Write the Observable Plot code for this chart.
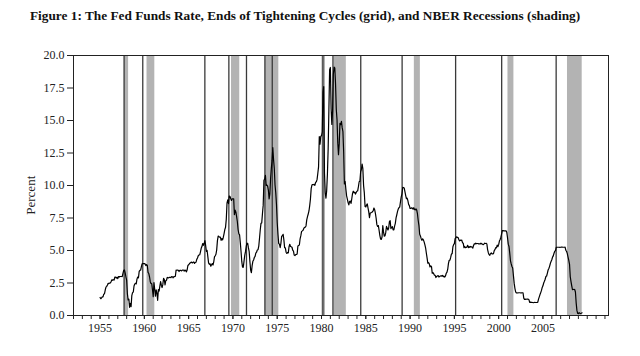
<!DOCTYPE html>
<html>
<head>
<meta charset="utf-8">
<script src="https://cdn.jsdelivr.net/npm/d3@7"></script>
<script src="https://cdn.jsdelivr.net/npm/@observablehq/plot@0.6"></script>
<style>
  body { margin: 0; background: #fff; }
  #wrap { position: relative; width: 640px; height: 356px; overflow: hidden; }
  #title { position: absolute; left: 30px; top: 8px; width: 460px; text-align: center;
           font: bold 13.3px "Liberation Serif", serif; color: #111; white-space: nowrap; }
  #chart { position: absolute; left: 0; top: 40px; }
</style>
</head>
<body>
<div id="wrap">
  <div id="title">Figure 1: The Fed Funds Rate, Ends of Tightening Cycles (grid), and NBER Recessions (shading)</div>
  <div id="chart"></div>
</div>
<script>
const startYear = 1955;
const rates1950s = [
 1.39,1.29,1.35,1.43,1.43,1.64,1.68,1.96,2.18,2.24,2.35,2.48,
 2.45,2.50,2.50,2.62,2.75,2.71,2.75,2.73,2.95,2.96,2.88,2.94,
 2.84,3.00,2.96,3.00,3.00,3.00,2.99,3.24,3.47,3.50,3.28,2.98,
 2.72,1.67,1.20,1.26,0.63,0.93,0.68,1.53,1.76,1.80,2.27,2.42,
 2.48,2.43,2.80,2.96,2.90,3.39,3.47,3.50,3.76,3.98,4.00,3.99];
const rates1960s = [
 3.99,3.97,3.84,3.92,3.85,3.32,3.23,2.98,2.60,2.47,2.44,1.98,
 1.45,2.54,2.02,1.49,1.98,1.73,1.17,2.00,1.88,2.26,2.61,2.33,
 2.15,2.37,2.85,2.78,2.36,2.68,2.71,2.93,2.90,2.90,2.94,2.93,
 2.92,3.00,2.98,2.90,3.00,2.99,3.02,3.49,3.48,3.50,3.48,3.38,
 3.48,3.48,3.43,3.47,3.50,3.50,3.42,3.50,3.45,3.36,3.52,3.85,
 3.90,3.98,4.04,4.09,4.10,4.04,4.09,4.12,4.01,4.08,4.10,4.32,
 4.42,4.60,4.65,4.67,4.90,5.17,5.30,5.53,5.40,5.53,5.76,5.40,
 4.94,5.00,4.53,4.05,3.94,3.98,3.79,3.90,3.99,3.88,4.13,4.51,
 4.60,4.71,5.05,5.76,6.11,6.07,6.02,6.03,5.78,5.91,5.82,6.02,
 6.30,6.61,6.79,7.41,8.67,8.90,8.61,9.19,9.15,9.00,8.85,8.97];
const rates1970s = [
 8.98,8.98,7.76,8.10,7.95,7.61,7.21,6.61,6.29,6.20,5.60,4.90,
 4.14,3.72,3.71,4.16,4.63,4.91,5.31,5.56,5.55,5.20,4.91,4.14,
 3.50,3.29,3.83,4.17,4.27,4.46,4.55,4.80,4.87,5.04,5.06,5.33,
 5.94,6.58,7.09,7.12,7.84,8.49,10.40,10.50,10.78,10.01,10.03,9.95,
 9.65,8.97,9.35,10.51,11.31,11.93,12.92,12.01,11.34,10.06,9.45,8.53,
 7.13,6.24,5.54,5.49,5.22,5.55,6.10,6.14,6.24,5.82,5.22,5.20,
 4.87,4.77,4.84,4.82,5.29,5.48,5.31,5.29,5.25,5.02,4.95,4.65,
 4.61,4.68,4.69,4.73,5.35,5.39,5.42,5.90,6.14,6.47,6.51,6.56,
 6.70,6.78,6.79,6.89,7.36,7.60,7.81,8.04,8.45,8.96,9.76,10.03,
 10.07,10.06,10.09,10.01,10.24,10.29,10.47,10.94,11.43,13.77,13.18,13.78];
const rates1980s = [
 13.82,14.13,17.19,17.61,10.98,9.47,9.03,9.61,10.87,12.81,15.85,18.90,
 19.08,15.93,14.70,15.72,18.52,19.10,19.04,17.82,15.87,15.08,13.31,12.37,
 13.22,14.78,14.68,14.94,14.45,14.15,12.59,10.12,10.31,9.71,9.20,8.95,
 8.68,8.51,8.77,8.80,8.63,8.98,9.37,9.56,9.45,9.48,9.34,9.47,
 9.56,9.59,9.91,10.29,10.32,11.06,11.23,11.64,11.30,9.99,9.43,8.38,
 8.35,8.50,8.58,8.27,7.97,7.53,7.88,7.90,7.92,7.99,8.05,8.27,
 8.14,7.86,7.48,6.99,6.85,6.92,6.56,6.17,5.89,5.85,6.04,6.91,
 6.43,6.10,6.13,6.37,6.85,6.73,6.58,6.73,7.22,7.29,6.69,6.77,
 6.83,6.58,6.58,6.87,7.09,7.51,7.75,8.01,8.19,8.30,8.35,8.76,
 9.12,9.36,9.85,9.84,9.81,9.53,9.24,8.99,9.02,8.84,8.55,8.45];
const rates1990s = [
 8.23,8.24,8.28,8.26,8.18,8.29,8.15,8.13,8.20,8.11,7.81,7.31,
 6.91,6.25,6.12,5.91,5.78,5.90,5.82,5.66,5.45,5.21,4.81,4.43,
 4.03,4.06,3.98,3.73,3.82,3.76,3.25,3.30,3.22,3.10,3.09,2.92,
 3.02,3.03,3.07,2.96,3.00,3.04,3.06,3.03,3.09,2.99,3.02,2.96,
 3.05,3.25,3.34,3.56,4.01,4.25,4.26,4.47,4.73,4.76,5.29,5.45,
 5.53,5.92,5.98,6.05,6.01,6.00,5.85,5.74,5.80,5.76,5.80,5.60,
 5.56,5.22,5.31,5.22,5.24,5.27,5.40,5.22,5.30,5.24,5.31,5.29,
 5.25,5.19,5.39,5.51,5.50,5.56,5.52,5.54,5.54,5.50,5.52,5.50,
 5.56,5.51,5.49,5.45,5.49,5.56,5.54,5.55,5.51,5.07,4.83,4.68,
 4.63,4.76,4.81,4.74,4.74,4.76,4.99,5.07,5.22,5.20,5.42,5.30];
const rates2000s = [
 5.45,5.73,5.85,6.02,6.27,6.53,6.54,6.50,6.52,6.51,6.51,6.40,
 5.98,5.49,5.31,4.80,4.21,3.97,3.77,3.65,3.07,2.49,2.09,1.82,
 1.73,1.74,1.73,1.75,1.75,1.75,1.73,1.74,1.75,1.75,1.34,1.24,
 1.24,1.26,1.25,1.26,1.26,1.22,1.01,1.03,1.01,1.01,1.00,0.98,
 1.00,1.01,1.00,1.00,1.00,1.03,1.26,1.43,1.61,1.76,1.93,2.16,
 2.28,2.50,2.63,2.79,3.00,3.04,3.26,3.50,3.62,3.78,4.00,4.16,
 4.29,4.49,4.59,4.79,4.94,4.99,5.24,5.25,5.25,5.25,5.25,5.24,
 5.25,5.26,5.26,5.25,5.25,5.25,5.26,5.02,4.94,4.76,4.49,4.24,
 3.94,2.98,2.61,2.28,1.98,2.00,2.01,2.00,1.81,0.97,0.39,0.16,
 0.15,0.22,0.18,0.15,0.18,0.21];

// Ends of tightening cycles (decimal years)
const tighteningEnds = [1957.71,1959.82,1966.83,1969.54,1971.53,1973.61,1974.44,1980.16,1981.29,1984.43,1989.10,1995.14,2000.34,2006.49];
// NBER recessions (decimal years)
const recessionStarts = [1957.75,1960.30,1969.84,1973.65,1980.05,1981.40,1990.48,2001.05,2007.77];
const recessionEnds   = [1958.22,1961.18,1970.77,1975.18,1980.45,1982.80,1991.16,2001.72,2009.43];

const yTicks = [0,2.5,5,7.5,10,12.5,15,17.5,20];
const xLabelYears = [1955,1960,1965,1970,1975,1980,1985,1990,1995,2000,2005];
const xMinorYears = d3.range(1952, 2013);

const rates = [...rates1950s, ...rates1960s, ...rates1970s, ...rates1980s, ...rates1990s, ...rates2000s];
const series = rates.map((r, i) => ({t: startYear + i / 12, r}));
const recessions = recessionStarts.map((s, i) => ({s, e: recessionEnds[i]}));

const chart = Plot.plot({
  width: 640,
  height: 316,
  marginLeft: 73,
  marginRight: 32,
  marginTop: 15,
  marginBottom: 41,
  style: {fontFamily: "'Liberation Serif', serif", fontSize: "12px", color: "#222", background: "#fff"},
  x: {domain: [1952, 2012.4]},
  y: {domain: [0, 20]},
  marks: [
    Plot.rect(recessions, {x1: "s", x2: "e", fill: "#b3b3b3"}),
    Plot.ruleX(tighteningEnds, {stroke: "#3a3a3a", strokeWidth: 1.3}),
    Plot.lineY(series, {x: "t", y: "r", stroke: "#000", strokeWidth: 1.2}),
    Plot.frame({stroke: "#222", strokeWidth: 1}),
    Plot.axisX(xMinorYears, {tickSize: 4, tickFormat: () => "", stroke: "#222"}),
    Plot.axisX(xLabelYears, {tickSize: 4, tickPadding: 4, tickFormat: d => String(d), fontSize: 12, stroke: "#222", label: null}),
    Plot.axisY(yTicks, {tickSize: 6, tickPadding: 3, tickFormat: d => d.toFixed(1), fontSize: 12, stroke: "#222", label: null}),
    Plot.text(["Percent"], {x: 1952, y: 9.25, dx: -43, rotate: -90, textAnchor: "middle", fontSize: 13, fill: "#222"})
  ]
});
document.getElementById("chart").appendChild(chart);
</script>
</body>
</html>
